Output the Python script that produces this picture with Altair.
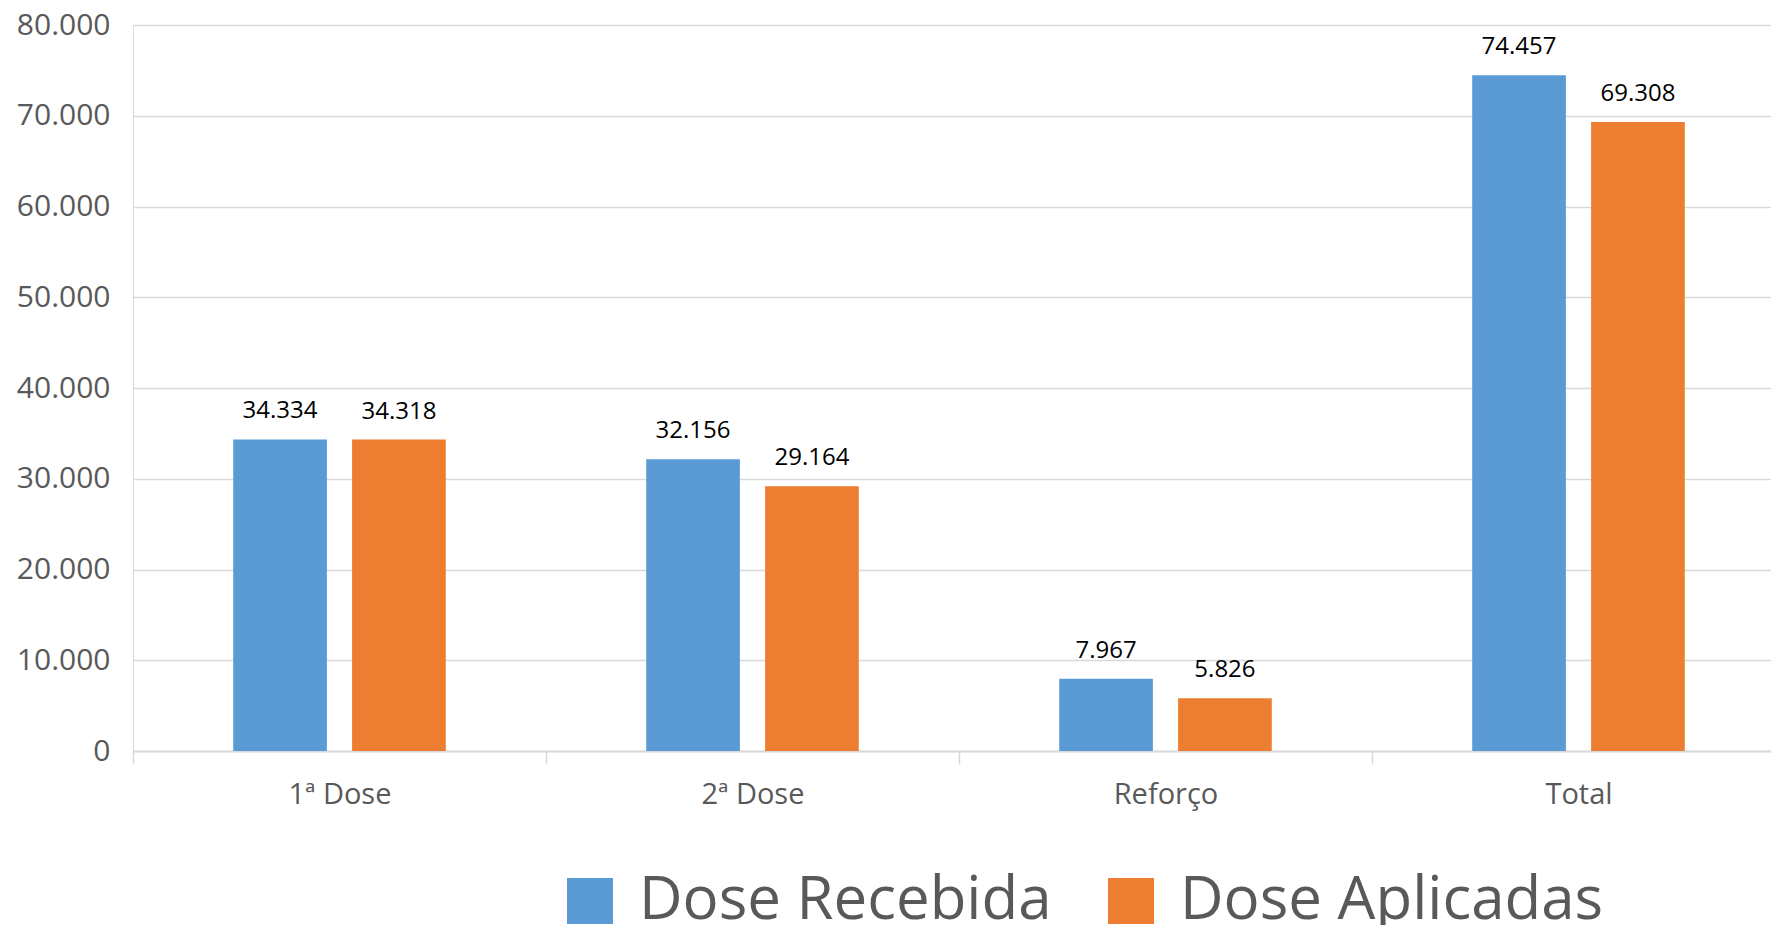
import altair as alt
import pandas as pd

categories = ["1ª Dose", "2ª Dose", "Reforço", "Total"]
dose_recebida = [34334, 32156, 7967, 74457]
dose_aplicadas = [34318, 29164, 5826, 69308]
series_names = ["Dose Recebida", "Dose Aplicadas"]
series_colors = ["#5B9BD5", "#ED7D31"]
y_ticks = [0, 10000, 20000, 30000, 40000, 50000, 60000, 70000, 80000]

rows = []
for c, r, a in zip(categories, dose_recebida, dose_aplicadas):
    rows.append({"categoria": c, "serie": series_names[0], "valor": r})
    rows.append({"categoria": c, "serie": series_names[1], "valor": a})
df = pd.DataFrame(rows)

fmt = "replace(format({v}, ','), regexp(',', 'g'), '.')"
FONT = "Open Sans"

base = alt.Chart(df).transform_calculate(
    rotulo=fmt.format(v="datum.valor")
).encode(
    x=alt.X(
        "categoria:N",
        sort=categories,
        scale=alt.Scale(paddingInner=0, paddingOuter=0, range=[0, 1652]),
        axis=alt.Axis(
            title=None, labelAngle=0, labelFont=FONT, labelFontSize=29,
            labelColor="#595959", labelPadding=16, tickBand="extent",
            ticks=True, tickColor="#d9d9d9", tickSize=13, tickWidth=1.5,
            domainColor="#d9d9d9", domainWidth=2, grid=False,
        ),
    ),
    xOffset=alt.XOffset(
        "serie:N", sort=series_names,
        scale=alt.Scale(paddingInner=0.212, paddingOuter=0.843),
    ),
    y=alt.Y(
        "valor:Q",
        scale=alt.Scale(domain=[0, 80000], nice=False),
        axis=alt.Axis(
            title=None, values=y_ticks,
            labelExpr=fmt.format(v="datum.value"),
            labelFont=FONT, labelFontSize=30, labelColor="#595959",
            labelPadding=23, ticks=False, domain=False,
            grid=True, gridColor="#d9d9d9", gridWidth=1.5,
        ),
    ),
)

bars = base.mark_bar().encode(
    color=alt.Color(
        "serie:N", sort=series_names,
        scale=alt.Scale(domain=series_names, range=series_colors),
        legend=alt.Legend(
            title=None, orient="none", legendX=427, legendY=846,
            direction="horizontal", symbolType="square", symbolSize=2116,
            symbolStrokeWidth=0, symbolOpacity=1, labelFont=FONT,
            labelFontSize=60, labelColor="#595959", labelOffset=19,
            columnPadding=49, padding=0, labelLimit=0,
        ),
    )
)

labels = base.mark_text(
    dy=-28, baseline="middle", font=FONT, fontSize=24, color="#000000"
).encode(text="rotulo:N")

chart = (
    (bars + labels)
    .properties(
        width=1638, height=726,
        autosize=alt.AutoSizeParams(type="none"),
        padding={"left": 125, "top": 17, "right": 0, "bottom": 174},
    )
    .configure_view(stroke=None)
    .configure(background="white")
)

chart.save("out.html", embed_options={"renderer": "svg", "actions": False})
